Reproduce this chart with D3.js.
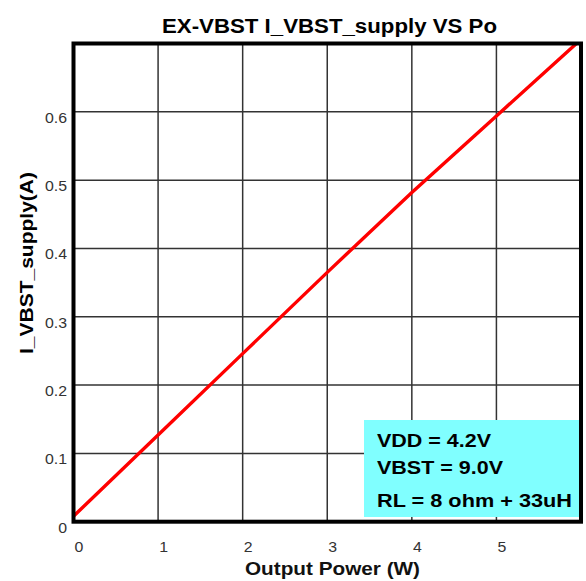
<!DOCTYPE html>
<html>
<head>
<meta charset="utf-8">
<script src="https://cdn.jsdelivr.net/npm/d3@7/dist/d3.min.js"></script>
<style>
  html, body { margin: 0; padding: 0; background: #fff; }
  svg { display: block; font-family: "Liberation Sans", Arial, sans-serif; }
</style>
</head>
<body>
<svg id="chart" width="586" height="581"></svg>
<script>
// ---- data ----
const outputPower = [0, 1, 2, 3, 4, 5, 6];                       // W
const supplyCurrent = [0.008, 0.127, 0.246, 0.365, 0.482, 0.594, 0.706]; // A
const xTicks = [0, 1, 2, 3, 4, 5];
const yTicks = [0, 0.1, 0.2, 0.3, 0.4, 0.5, 0.6];
const xGrid = [1, 2, 3, 4, 5];
const yGrid = [0.1, 0.2, 0.3, 0.4, 0.5, 0.6];
const titleText = "EX-VBST I_VBST_supply VS Po";
const xTitle = "Output Power (W)";
const yTitle = "I_VBST_supply(A)";
const notes = ["VDD = 4.2V", "VBST = 9.0V", "RL = 8 ohm + 33uH"];

// ---- layout ----
const svg = d3.select("#chart");
const L = 73.5, R = 581, T = 43.5, B = 521.7;
const x = d3.scaleLinear().domain([0, 6]).range([L, R]);
const y = d3.scaleLinear().domain([0, 0.7]).range([B, T]);

function stretch(f) {
  return sel => sel.each(function () {
    const l = this.getComputedTextLength();
    this.setAttribute("textLength", l * f);
    this.setAttribute("lengthAdjust", "spacingAndGlyphs");
  });
}
function fitTo(len) {
  return sel => sel.attr("textLength", len).attr("lengthAdjust", "spacingAndGlyphs");
}

// grid
const g = svg.append("g");
g.selectAll("line.vx").data(xGrid).join("line")
  .attr("x1", d => x(d)).attr("x2", d => x(d))
  .attr("y1", T).attr("y2", B)
  .attr("stroke", "#333").attr("stroke-width", 1.5);
g.selectAll("line.hy").data(yGrid).join("line")
  .attr("x1", L).attr("x2", R)
  .attr("y1", d => y(d)).attr("y2", d => y(d))
  .attr("stroke", "#333").attr("stroke-width", 1.5);

// annotation box
svg.append("rect")
  .attr("x", 364).attr("y", 420).attr("width", 216).attr("height", 97)
  .attr("fill", "#80ffff");
const noteY = [447, 474, 507];
const noteLen = [114, 126, 195];
svg.selectAll("text.note").data(notes).join("text")
  .attr("class", "note")
  .attr("x", 377).attr("y", (d, i) => noteY[i])
  .attr("font-size", 18.8).attr("font-weight", "bold").attr("fill", "#000")
  .attr("textLength", (d, i) => noteLen[i]).attr("lengthAdjust", "spacingAndGlyphs")
  .text(d => d);

// data line
svg.append("clipPath").attr("id", "clip")
  .append("rect").attr("x", L).attr("y", T).attr("width", R - L).attr("height", B - T);
const pts = outputPower.map((p, i) => [p, supplyCurrent[i]]);
svg.append("path")
  .datum(pts)
  .attr("clip-path", "url(#clip)")
  .attr("fill", "none")
  .attr("stroke", "#ff0000")
  .attr("stroke-width", 3.4)
  .attr("d", d3.line().x(d => x(d[0])).y(d => y(d[1])));

// frame
svg.append("rect")
  .attr("x", L).attr("y", T).attr("width", R - L).attr("height", B - T)
  .attr("fill", "none").attr("stroke", "#000").attr("stroke-width", 4);

// axes (labels only)
const xAxis = d3.axisBottom(x).tickValues(xTicks).tickFormat(d3.format("d")).tickSize(0).tickPadding(0);
const xg = svg.append("g").attr("transform", `translate(0,${B})`).call(xAxis);
xg.select(".domain").remove();
xg.selectAll("text")
  .attr("dy", null).attr("y", 30).attr("dx", 5)
  .attr("font-size", 13.8).attr("fill", "#333")
  .attr("font-family", "Liberation Sans, Arial, sans-serif")
  .call(stretch(1.15));

const yAxis = d3.axisLeft(y).tickValues(yTicks).tickFormat(d => d === 0 ? "0" : d3.format(".1f")(d)).tickSize(0).tickPadding(0);
const yg = svg.append("g").attr("transform", `translate(${L - 6.5},0)`).call(yAxis);
yg.select(".domain").remove();
yg.selectAll("text")
  .attr("dy", null).attr("x", 0).attr("y", 10.5)
  .attr("font-size", 13.8).attr("fill", "#333")
  .attr("font-family", "Liberation Sans, Arial, sans-serif")
  .call(stretch(1.15));

// titles
svg.append("text")
  .attr("x", 329.5).attr("y", 33)
  .attr("text-anchor", "middle")
  .attr("font-size", 19.5).attr("font-weight", "bold").attr("fill", "#000")
  .text(titleText).call(fitTo(335));

svg.append("text")
  .attr("x", 332.5).attr("y", 575)
  .attr("text-anchor", "middle")
  .attr("font-size", 19).attr("font-weight", "bold").attr("fill", "#111")
  .text(xTitle).call(fitTo(175));

svg.append("text")
  .attr("transform", "translate(33,263) rotate(-90)")
  .attr("text-anchor", "middle")
  .attr("font-size", 19).attr("font-weight", "bold").attr("fill", "#000")
  .text(yTitle).call(fitTo(182));
</script>
</body>
</html>
